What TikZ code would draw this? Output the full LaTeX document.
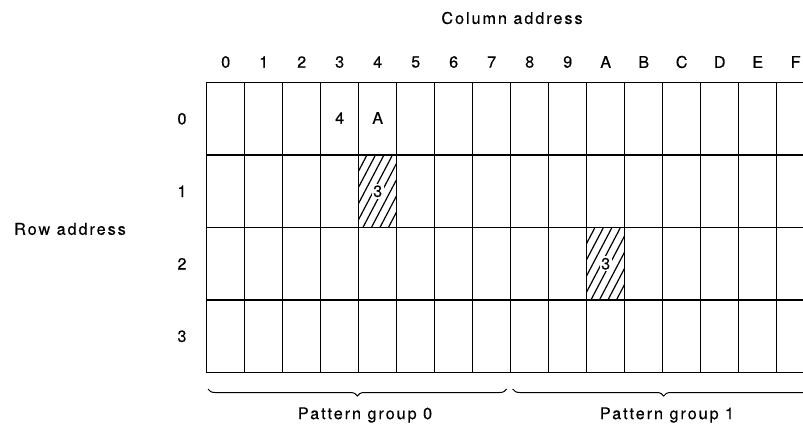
\documentclass[tikz,border=0pt]{standalone}
\usepackage{fontspec}
\newfontfamily\lblfont{TeX Gyre Heros}[LetterSpace=12,FakeBold=0.4]
\usetikzlibrary{decorations.pathreplacing}
\begin{document}
\begin{tikzpicture}[x=1bp,y=-1bp,
  lbl/.style={font=\lblfont\fontsize{16.2bp}{19bp}\selectfont, inner sep=0pt},
  gridline/.style={line width=1.5bp, line cap=rect},
  hatchline/.style={line width=1.2bp},
  brc/.style={decorate, decoration={brace,mirror,amplitude=7bp}, line width=1bp}]
\useasboundingbox (0,0) rectangle (803,427);
% hatched cells
\foreach \cx/\cy in {358.7/155, 586.7/227.5} {
  \begin{scope}
    \clip (\cx,\cy) rectangle ++(38,72.5);
    \foreach \i in {-6,...,5} {\draw[hatchline] (\cx+\i*8.5,\cy+80.5) -- ++(42,-80);}
  \end{scope}
}
\node[lbl, fill=white, inner sep=1.5bp] (h1) at (377.7,191.25) {3};
\node[lbl, fill=white, inner sep=1.5bp] (h2) at (605.7,263.75) {3};
% grid
\foreach \k in {0,...,15} \draw[gridline] (206.7+38*\k,82.5) -- (206.7+38*\k,372.5);
\foreach \r in {0,...,4} \draw[gridline] (206.7,82.5+72.5*\r) -- (803,82.5+72.5*\r);
% column labels
\foreach \l [count=\k from 0] in {0,1,2,3,4,5,6,7,8,9,A,B,C,D,E,F}
  \node[lbl] (col\k) at (225.7+38*\k,62) {\l};
% row labels
\foreach \r in {0,...,3}
  \node[lbl] (row\r) at (182,118.75+72.5*\r) {\r};
\node[lbl] (coladdr) at (512,18) {Column address};
\node[lbl] (rowaddr) at (70,229) {Row address};
% cell texts
\node[lbl] (c4) at (339.7,118) {4};
\node[lbl] (cA) at (377.7,118) {A};
% braces
\coordinate (b0s) at (208,389);
\coordinate (b0e) at (506.7,389);
\coordinate (b1s) at (512.7,389);
\coordinate (b1e) at (814.7,389);
\draw[brc] (b0s) -- (b0e);
\draw[brc] (b1s) -- (b1e);
\node[lbl] (pg0) at (365,415) {Pattern group 0};
\node[lbl] (pg1) at (667,415) {Pattern group 1};
\end{tikzpicture}
\end{document}
